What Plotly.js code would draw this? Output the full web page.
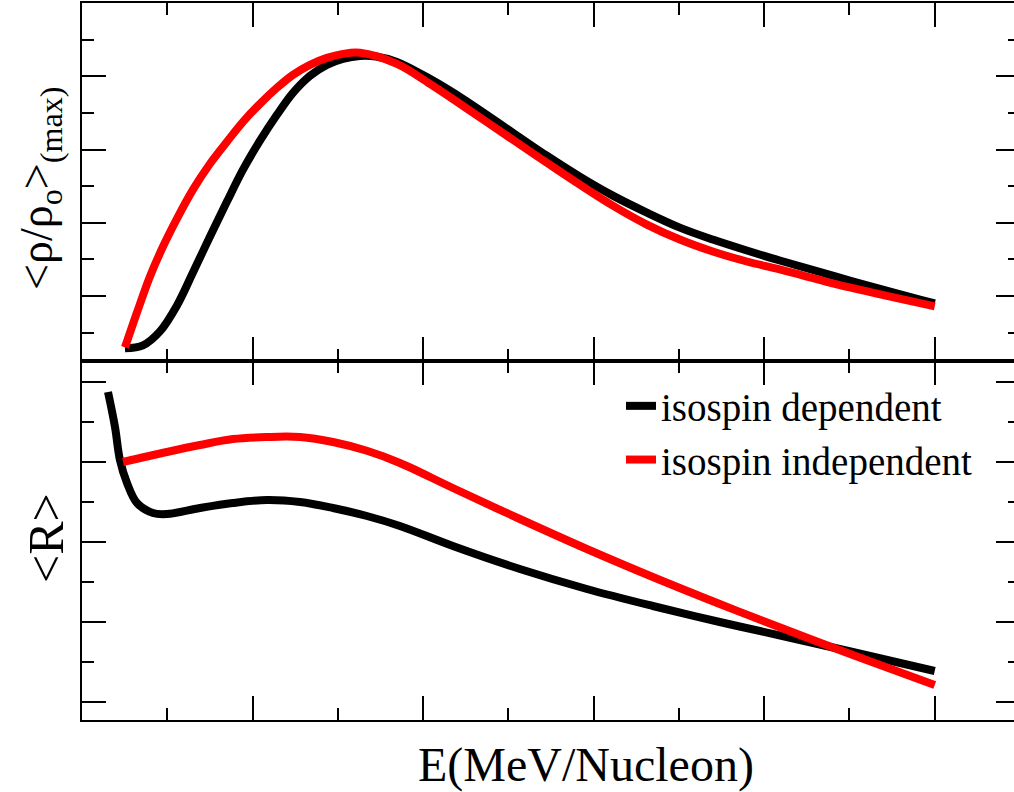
<!DOCTYPE html>
<html>
<head>
<meta charset="utf-8">
<script src="https://cdn.plot.ly/plotly-3.0.1.min.js"></script>
<style>html,body{margin:0;padding:0;overflow:hidden;background:#fff;}</style>
</head>
<body>
<div id="chart"></div>
<script>
// Top panel: <rho/rho0>(max) vs E
const topDepX = [0.504,0.715,0.914,1.114,1.301,1.501,1.700,1.888,2.087,2.286,2.474,2.673,2.872,3.060,3.259,3.447,3.693,4.080,4.467,5.053,5.451,5.838,6.225,6.624,7.011,7.397,7.796,8.183,9.004,10.0];
const topDepY = [0.572,0.654,1.035,1.744,2.643,3.624,4.578,5.450,6.240,6.948,7.548,8.011,8.311,8.474,8.556,8.54,8.392,7.929,7.384,6.458,5.831,5.259,4.741,4.278,3.869,3.542,3.243,2.970,2.425,1.798];
const topIndX = [0.504,0.645,0.797,0.950,1.114,1.301,1.501,1.700,1.888,2.087,2.286,2.474,2.673,2.872,3.060,3.259,3.693,4.080,4.467,5.053,5.451,5.838,6.225,6.624,7.011,7.397,7.796,8.183,9.004,10.0];
const topIndY = [0.599,1.553,2.534,3.351,4.114,4.905,5.613,6.213,6.757,7.248,7.684,8.038,8.311,8.501,8.610,8.640,8.338,7.793,7.193,6.267,5.640,5.041,4.469,3.951,3.542,3.215,2.943,2.725,2.234,1.717];
// Bottom panel: <R> vs E
const botDepX = [0.305,0.387,0.445,0.528,0.645,0.832,0.996,1.383,1.770,2.169,2.556,2.943,3.341,3.728,4.349,5.135,5.920,6.694,7.479,8.265,9.039,10.0];
const botDepY = [7.75,6.875,6.05,5.475,4.975,4.725,4.70,4.85,4.975,5.05,5.0,4.85,4.65,4.40,3.90,3.325,2.825,2.40,2.0,1.625,1.25,0.775];
const botIndX = [0.481,0.996,1.383,1.770,2.169,2.556,2.943,3.341,3.728,4.349,5.135,5.920,6.694,7.479,8.265,9.039,10.0];
const botIndY = [6.0,6.25,6.425,6.575,6.625,6.625,6.5,6.28,5.975,5.35,4.575,3.825,3.125,2.45,1.8,1.175,0.425];
const seriesNames = ['isospin dependent','isospin independent'];
const seriesColors = ['#000000','#ff0000'];
const yTitleTop = '&lt;ρ/ρ<sub>o</sub>&gt;<sub>(max)</sub>';
const yTitleBottom = '&lt;R&gt;';
const xTitle = 'E(MeV/Nucleon)';

const lw = 8;
const serif = 'Liberation Serif';
const traces = [
  {x: topDepX, y: topDepY, xaxis:'x', yaxis:'y', mode:'lines', name: seriesNames[0], legendgroup:'a', showlegend:false,
   line:{color:seriesColors[0], width:lw, shape:'spline', smoothing:1}},
  {x: topIndX, y: topIndY, xaxis:'x', yaxis:'y', mode:'lines', name: seriesNames[1], legendgroup:'b', showlegend:false,
   line:{color:seriesColors[1], width:lw, shape:'spline', smoothing:1}},
  {x: botDepX, y: botDepY, xaxis:'x2', yaxis:'y2', mode:'lines', name: seriesNames[0], legendgroup:'a',
   line:{color:seriesColors[0], width:lw, shape:'spline', smoothing:1}},
  {x: botIndX, y: botIndY, xaxis:'x2', yaxis:'y2', mode:'lines', name: seriesNames[1], legendgroup:'b',
   line:{color:seriesColors[1], width:lw, shape:'spline', smoothing:1}}
];

const split = (720-361)/717;
const axCommon = {
  showgrid:false, zeroline:false, showticklabels:false,
  showline:true, linecolor:'#000', linewidth:2, mirror:'ticks',
  ticks:'inside', ticklen:24, tickwidth:2, tickcolor:'#000',
  tick0:0, dtick:2,
  minor:{ticks:'inside', ticklen:12, tickwidth:2, tickcolor:'#000', dtick:1, tick0:0, showgrid:false}
};
const layout = {
  width:1026, height:792,
  margin:{l:82, r:6, t:3, b:72},
  paper_bgcolor:'#fff', plot_bgcolor:'#fff',
  font:{family:serif, color:'#000'},
  xaxis: Object.assign({}, axCommon, {range:[0,11], anchor:'y', domain:[0,1]}),
  yaxis: Object.assign({}, axCommon, {range:[0.227,10], anchor:'x', domain:[split,1]}),
  xaxis2: Object.assign({}, axCommon, {range:[0,11], anchor:'y2', domain:[0,1]}),
  yaxis2: Object.assign({}, axCommon, {range:[-0.45,8.525], anchor:'x2', domain:[0,split]}),
  showlegend:true,
  legend:{x:(621-82)/938, y:(720-374)/717, xanchor:'left', yanchor:'top',
    bgcolor:'rgba(0,0,0,0)', borderwidth:0, font:{size:39, family:serif, color:'#000'},
    tracegroupgap:0, itemwidth:30},
  annotations:[
    {text:xTitle, xref:'paper', yref:'paper', x:(586-82)/938, y:-(765-720)/717,
     xanchor:'center', yanchor:'middle', showarrow:false, font:{size:48, family:serif, color:'#000'}},
    {text:yTitleTop, xref:'paper', yref:'paper', x:(40-82)/938, y:(720-188)/717, textangle:-90,
     xanchor:'center', yanchor:'middle', showarrow:false, font:{size:46, family:serif, color:'#000'}},
    {text:yTitleBottom, xref:'paper', yref:'paper', x:(46-82)/938, y:(720-538)/717, textangle:-90,
     xanchor:'center', yanchor:'middle', showarrow:false, font:{size:50, family:serif, color:'#000'}}
  ]
};
Plotly.newPlot('chart', traces, layout, {displayModeBar:false, staticPlot:true});
</script>
</body>
</html>
